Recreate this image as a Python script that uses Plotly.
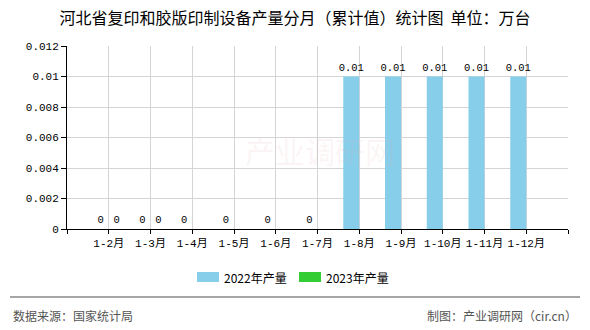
import plotly.graph_objects as go

categories = ["1-2月", "1-3月", "1-4月", "1-5月", "1-6月", "1-7月",
              "1-8月", "1-9月", "1-10月", "1-11月", "1-12月"]
values_2022 = [0, 0, 0, 0, 0, 0, 0.01, 0.01, 0.01, 0.01, 0.01]
values_2023 = [0, 0, None, None, None, None, None, None, None, None, None]
series_names = ["2022年产量", "2023年产量"]
series_colors = ["#87CEEB", "#33CC33"]
y_ticks = [0, 0.002, 0.004, 0.006, 0.008, 0.01, 0.012]

positions = list(range(1, len(categories) + 1))
bar_w = 0.383

mono = "Liberation Mono, Noto Sans CJK SC, monospace"
cjk = "Noto Sans CJK SC, sans-serif"

fig = go.Figure()
fig.add_trace(go.Bar(
    x=positions, y=values_2022, name=series_names[0],
    marker=dict(color=series_colors[0], line=dict(width=0)),
    width=bar_w, offset=-bar_w,
    text=[("0" if v == 0 else f"{v:g}") for v in values_2022],
    textposition="outside", cliponaxis=False, constraintext="none",
    textfont=dict(family=mono, size=10.5, color="#000"),
))
fig.add_trace(go.Bar(
    x=positions, y=values_2023, name=series_names[1],
    marker=dict(color=series_colors[1], line=dict(width=0)),
    width=bar_w, offset=0,
    text=[("" if v is None else ("0" if v == 0 else f"{v:g}")) for v in values_2023],
    textposition="outside", cliponaxis=False, constraintext="none",
    textfont=dict(family=mono, size=10.5, color="#000"),
))

# plot area in px: x 67..568, y 46..229
L, R, T, B = 67, 568, 46, 229
W, H = R - L, B - T
def px(x):
    return (x - L) / W
def py(y):
    return (B - y) / H

shapes = []
annotations = []
# manual legend
leg_y = 277
for i, (name, col) in enumerate(zip(series_names, series_colors)):
    x0 = 197 + i * 102
    shapes.append(dict(type="rect", xref="paper", yref="paper",
                       x0=px(x0), x1=px(x0 + 22), y0=py(leg_y - 5), y1=py(leg_y + 5),
                       fillcolor=col, line=dict(width=0)))
    annotations.append(dict(xref="paper", yref="paper", x=px(x0 + 25), y=py(leg_y),
                            xanchor="left", yanchor="middle", showarrow=False,
                            text=name, font=dict(family=cjk, size=12, color="#000")))
# footer line
shapes.append(dict(type="line", xref="paper", yref="paper",
                   x0=px(10), x1=px(580), y0=py(297), y1=py(297),
                   line=dict(color="#888888", width=1.5)))
annotations.append(dict(xref="paper", yref="paper", x=px(11), y=py(315),
                        xanchor="left", yanchor="middle", showarrow=False,
                        text="数据来源：国家统计局", font=dict(family=cjk, size=12, color="#555")))
annotations.append(dict(xref="paper", yref="paper", x=px(579), y=py(315),
                        xanchor="right", yanchor="middle", showarrow=False,
                        text="制图：产业调研网（cir.cn）", font=dict(family=cjk, size=12, color="#555")))
# faint watermark
annotations.append(dict(xref="paper", yref="paper", x=px(320), y=py(150),
                        xanchor="center", yanchor="middle", showarrow=False,
                        text="产业调研网", font=dict(family=cjk, size=30, color="rgba(230,170,170,0.12)")))

fig.update_layout(
    width=590, height=330,
    margin=dict(l=L, r=590 - R, t=T, b=330 - B),
    paper_bgcolor="white", plot_bgcolor="white",
    showlegend=False,
    barmode="overlay",
    title=dict(text="河北省复印和胶版印制设备产量分月（累计值）统计图&nbsp;&nbsp;单位：万台",
               x=0.5, xref="container", xanchor="center",
               y=1 - 18 / 330, yref="container", yanchor="middle",
               font=dict(family=cjk, size=16, color="#000")),
    xaxis=dict(
        range=[0, len(categories) + 1],
        tickvals=[0] + positions + [len(categories) + 1],
        ticktext=[""] + categories + [""],
        showgrid=True, gridcolor="#d4d4d4", gridwidth=1,
        showline=True, linecolor="#000", linewidth=1,
        ticks="outside", ticklen=4, tickcolor="#000",
        zeroline=False,
        tickfont=dict(family=mono, size=11, color="#000"),
        fixedrange=True,
    ),
    yaxis=dict(
        range=[0, 0.012],
        tickvals=y_ticks,
        ticktext=[f"{v:g}" for v in y_ticks],
        showgrid=True, gridcolor="#d4d4d4", gridwidth=1,
        showline=True, linecolor="#000", linewidth=1,
        ticks="outside", ticklen=5, tickcolor="#000",
        zeroline=False,
        tickfont=dict(family=mono, size=11, color="#000"),
        fixedrange=True,
    ),
    shapes=shapes,
    annotations=annotations,
)

fig.write_html("out.html")
